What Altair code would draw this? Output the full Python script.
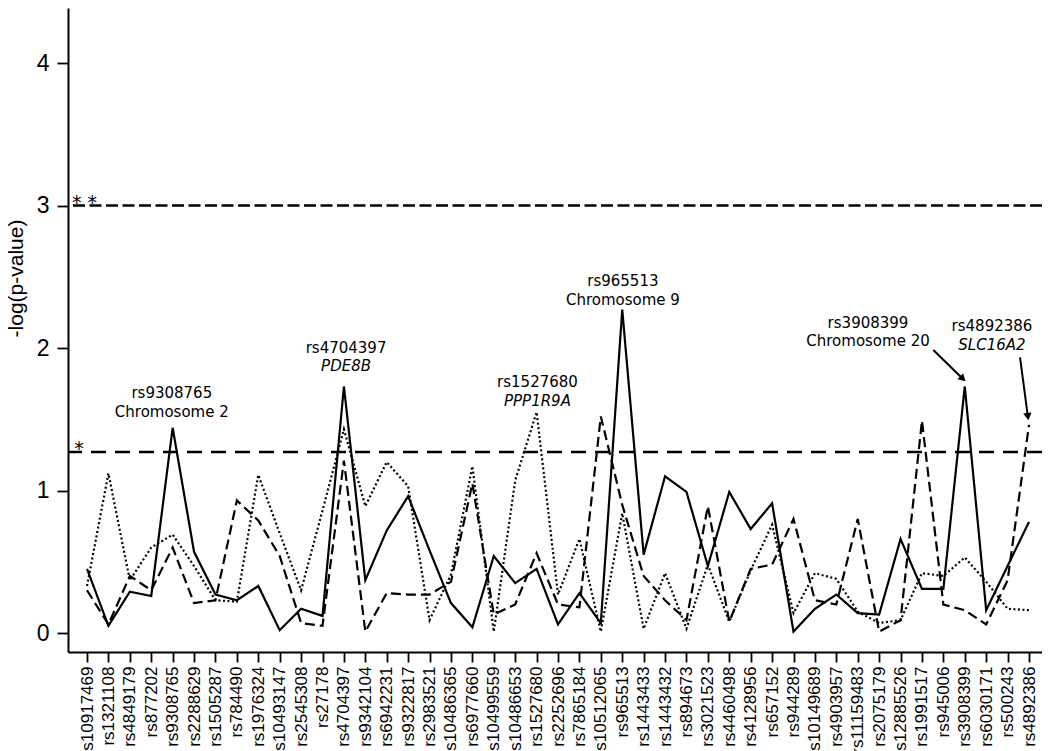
import altair as alt
import pandas as pd

# ---------------- data ----------------
snps = ["rs10917469", "rs1321108", "rs4849179", "rs877202", "rs9308765", "rs2288629",
        "rs1505287", "rs784490", "rs1976324", "rs10493147", "rs2545308", "rs27178",
        "rs4704397", "rs9342104", "rs6942231", "rs9322817", "rs2983521", "rs10486365",
        "rs6977660", "rs10499559", "rs10486653", "rs1527680", "rs2252696", "rs7865184",
        "rs10512065", "rs965513", "rs1443433", "rs1443432", "rs894673", "rs3021523",
        "rs4460498", "rs4128956", "rs657152", "rs944289", "rs10149689", "rs4903957",
        "rs11159483", "rs2075179", "rs12885526", "rs1991517", "rs945006", "rs3908399",
        "rs6030171", "rs500243", "rs4892386"]

solid_vals = [0.45, 0.05, 0.29, 0.26, 1.44, 0.57, 0.27, 0.23, 0.33, 0.02, 0.17, 0.12,
              1.73, 0.37, 0.72, 0.96, 0.58, 0.21, 0.04, 0.54, 0.35, 0.45, 0.06, 0.28,
              0.07, 2.27, 0.55, 1.10, 0.99, 0.47, 0.99, 0.73, 0.91, 0.01, 0.17, 0.27,
              0.14, 0.13, 0.66, 0.31, 0.31, 1.73, 0.16, 0.47, 0.78]

dashed_vals = [0.30, 0.06, 0.40, 0.30, 0.60, 0.21, 0.23, 0.93, 0.79, 0.54, 0.07, 0.05,
               1.21, 0.01, 0.28, 0.27, 0.27, 0.36, 1.05, 0.13, 0.20, 0.56, 0.20, 0.18,
               1.52, 0.90, 0.40, 0.23, 0.09, 0.89, 0.08, 0.45, 0.48, 0.80, 0.23, 0.20,
               0.80, 0.01, 0.09, 1.49, 0.20, 0.16, 0.06, 0.37, 1.46]

dotted_vals = [0.33, 1.12, 0.37, 0.60, 0.69, 0.47, 0.23, 0.22, 1.11, 0.70, 0.30, 0.86,
               1.43, 0.89, 1.20, 1.03, 0.09, 0.41, 1.17, 0.01, 1.07, 1.55, 0.27, 0.66,
               0.01, 0.84, 0.03, 0.42, 0.03, 0.48, 0.08, 0.44, 0.76, 0.14, 0.42, 0.38,
               0.15, 0.07, 0.09, 0.42, 0.40, 0.53, 0.36, 0.17, 0.16]

threshold_values = [3.0, 1.27]
threshold_labels = ["* *", "*"]
threshold_label_x = [0.30, 0.40]

annot_snp = ["rs9308765", "rs4704397", "rs1527680", "rs965513", "rs3908399", "rs4892386"]
annot_sub = ["Chromosome 2", "PDE8B", "PPP1R9A", "Chromosome 9", "Chromosome 20", "SLC16A2"]
annot_italic = [False, True, True, False, False, True]
annot_x = [4.96, 13.10, 22.04, 26.03, 37.48, 43.27]
annot_y = [1.649, 1.965, 1.723, 2.435, 2.142, 2.119]

arrow_x1 = [40.53, 44.58]
arrow_y1 = [1.986, 1.935]
arrow_xh = [41.87, 44.94]
arrow_yh = [1.790, 1.527]
arrow_angle = [134, 172]

# ---------------- tables ----------------
rows = []
for name, vals in [("solid", solid_vals), ("dashed", dashed_vals), ("dotted", dotted_vals)]:
    for i, (s, v) in enumerate(zip(snps, vals)):
        rows.append({"idx": i + 1, "snp": s, "series": name, "value": v})
df = pd.DataFrame(rows)

thr = pd.DataFrame({"value": threshold_values, "label": threshold_labels, "lx": threshold_label_x})
ann = pd.DataFrame({"snp": annot_snp, "sub": annot_sub, "italic": annot_italic,
                    "x": annot_x, "y": annot_y})
arr = pd.DataFrame({"x1": arrow_x1, "y1": arrow_y1, "xh": arrow_xh, "yh": arrow_yh,
                    "angle": arrow_angle})

label_js = "[" + ",".join("'" + s + "'" for s in snps) + "]"

xscale = alt.Scale(domain=[0.112, 45.607], nice=False, zero=False)
yscale = alt.Scale(domain=[-0.1333, 4.386], nice=False, zero=False)

xaxis = alt.Axis(values=list(range(1, len(snps) + 1)), tickCount=100,
                 labelExpr=label_js + "[datum.value - 1]",
                 labelAngle=270, labelFontSize=17, labelFont="Liberation Sans",
                 labelColor="black", labelPadding=4, labelOverlap=False,
                 tickSize=10, tickWidth=1.8, tickColor="black",
                 domainWidth=2, domainColor="black", grid=False, title=None)
yaxis = alt.Axis(values=[0, 1, 2, 3, 4], format="d",
                 labelFontSize=23, labelFont="Liberation Sans", labelColor="black",
                 labelPadding=8, tickSize=11, tickWidth=1.8, tickColor="black",
                 domainWidth=2, domainColor="black", grid=False,
                 title="-log(p-value)", titleFont="Liberation Sans", titleFontSize=21,
                 titleFontWeight="normal", titleColor="black", titleX=-42, titleY=270)

X = alt.X("idx:Q", scale=xscale, axis=xaxis)
Y = alt.Y("value:Q", scale=yscale, axis=yaxis)

base = alt.Chart(df)

line_solid = base.transform_filter(alt.datum.series == "solid").mark_line(
    color="black", strokeWidth=2.2).encode(x=X, y=Y)
line_dashed = base.transform_filter(alt.datum.series == "dashed").mark_line(
    color="black", strokeWidth=2.2, strokeDash=[10, 5]).encode(x=X, y=Y)
line_dotted = base.transform_filter(alt.datum.series == "dotted").mark_line(
    color="black", strokeWidth=2.2, strokeDash=[2, 2.5]).encode(x=X, y=Y)

thr_base = alt.Chart(thr)
thr_rule3 = thr_base.transform_filter(alt.datum.value > 2).mark_rule(
    color="black", strokeWidth=2.4, strokeDash=[12, 4.5]).encode(
    y=alt.Y("value:Q", scale=yscale))
thr_rule1 = thr_base.transform_filter(alt.datum.value < 2).mark_rule(
    color="black", strokeWidth=2.4, strokeDash=[15, 9]).encode(
    y=alt.Y("value:Q", scale=yscale))
thr_text = thr_base.mark_text(align="left", baseline="alphabetic", font="DejaVu Sans",
                              fontSize=19, color="black", dy=3).encode(
    x=alt.X("lx:Q", scale=xscale), y=alt.Y("value:Q", scale=yscale), text="label:N")

ann_base = alt.Chart(ann)
ann_line1 = ann_base.mark_text(align="center", baseline="alphabetic", font="DejaVu Sans",
                               fontSize=15, color="black").encode(
    x=alt.X("x:Q", scale=xscale), y=alt.Y("y:Q", scale=yscale), text="snp:N")
ann_line2 = ann_base.transform_filter(alt.datum.italic == False).mark_text(
    align="center", baseline="alphabetic", font="DejaVu Sans", fontSize=15,
    color="black", dy=18.5).encode(
    x=alt.X("x:Q", scale=xscale), y=alt.Y("y:Q", scale=yscale), text="sub:N")
ann_line2i = ann_base.transform_filter(alt.datum.italic == True).mark_text(
    align="center", baseline="alphabetic", font="DejaVu Sans", fontSize=15,
    fontStyle="italic", color="black", dy=18.5).encode(
    x=alt.X("x:Q", scale=xscale), y=alt.Y("y:Q", scale=yscale), text="sub:N")

arr_base = alt.Chart(arr)
arr_line = arr_base.mark_rule(color="black", strokeWidth=2).encode(
    x=alt.X("x1:Q", scale=xscale), y=alt.Y("y1:Q", scale=yscale),
    x2="xh:Q", y2="yh:Q")
arr_head = arr_base.mark_point(shape="triangle", filled=True, color="black",
                               size=70, opacity=1).encode(
    x=alt.X("xh:Q", scale=xscale), y=alt.Y("yh:Q", scale=yscale),
    angle=alt.Angle("angle:Q", scale=None))

chart = alt.layer(
    thr_rule3, thr_rule1, line_dotted, line_dashed, line_solid,
    thr_text, ann_line1, ann_line2, ann_line2i, arr_line, arr_head
).properties(
    width=974, height=644,
    autosize=alt.AutoSizeParams(type="none"),
    padding={"left": 60, "top": 0, "right": 0, "bottom": 99},
    background="white"
).configure_view(stroke="transparent")

chart.save("out.html", embed_options={"renderer": "svg", "actions": False})
